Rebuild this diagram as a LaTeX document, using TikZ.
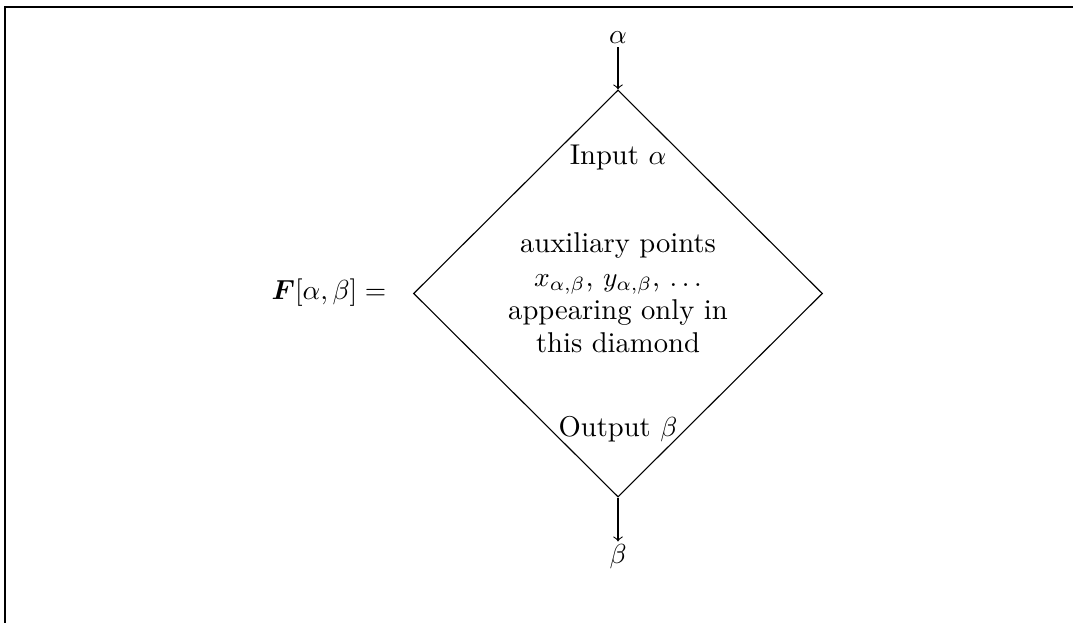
\documentclass[tikz,border=0pt]{standalone}
\usepackage{amsmath,bm}
\usetikzlibrary{shapes.geometric}
\begin{document}
\begin{tikzpicture}[x=0.36347pt,y=-0.36347pt,
  every node/.style={font=\fontsize{10.4pt}{12.1pt}\selectfont},
  lbl/.style={inner sep=1pt},
  conn/.style={->,>=to,line width=0.4pt},
  frame/.style={line width=0.6pt}]
\useasboundingbox (0,0) rectangle (1073,623);
\draw[frame] (5,623) -- (5,7) -- (1073,7);
\node[draw,diamond,minimum width=409*0.36347pt,minimum height=407*0.36347pt,inner sep=0pt,line width=0.4pt] (d) at (618,293.5) {};
\node[lbl] (in) at (618,158) {Input $\alpha$};
\node[lbl,align=center] (aux) at (618,293) {auxiliary points\\ $x_{\alpha,\beta}$, $y_{\alpha,\beta}$, $\ldots$\\ appearing only in\\ this diamond};
\node[lbl] (out) at (618,429) {Output $\beta$};
\node[lbl] (F) at (329,293) {$\bm{F}[\alpha,\beta] =$};
\node[lbl] (a) at (618,38) {$\alpha$};
\node[lbl] (b) at (618,557) {$\beta$};
\draw[conn] (a) -- (d.north);
\draw[conn] (d.south) -- (b);
\end{tikzpicture}
\end{document}
